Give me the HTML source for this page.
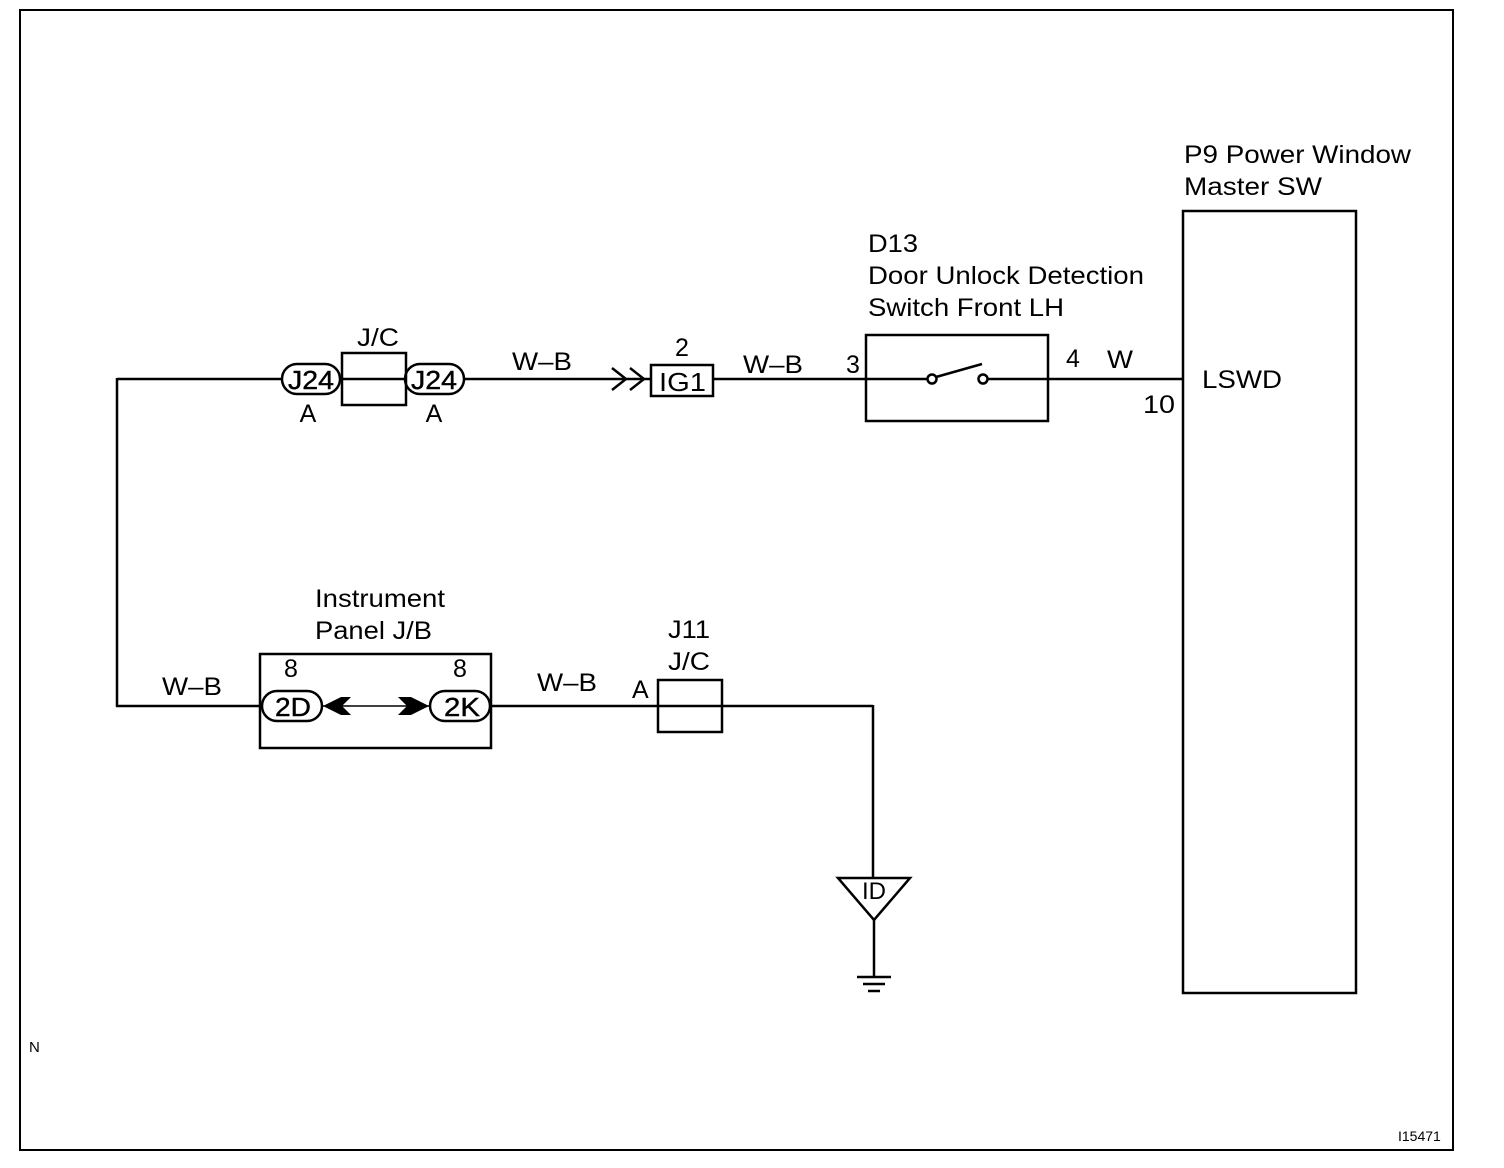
<!DOCTYPE html>
<html><head><meta charset="utf-8"><style>
html,body{margin:0;padding:0;background:#fff;}
svg{display:block;}
text{font-family:"Liberation Sans",sans-serif;fill:#000;}
</style></head><body>
<svg width="1504" height="1168" viewBox="0 0 1504 1168" xmlns="http://www.w3.org/2000/svg">
<rect x="20" y="10" width="1433" height="1140" fill="none" stroke="#000" stroke-width="2"/>
<g stroke="#000" stroke-width="2.5" fill="none">
<line x1="117" y1="379" x2="282" y2="379"/>
<rect x="282" y="364" width="58" height="30" rx="15"/>
<rect x="342" y="353" width="64" height="52"/>
<line x1="342" y1="379" x2="406" y2="379"/>
<rect x="405" y="364" width="59" height="30" rx="15"/>
<line x1="464" y1="379" x2="650" y2="379"/>
<polyline points="612,368 626,379 612,390"/>
<polyline points="630,368 644,379 630,390"/>
<rect x="651" y="365" width="62" height="31"/>
<line x1="713" y1="379" x2="927" y2="379"/>
<rect x="866" y="335" width="182" height="86"/>
<circle cx="932" cy="379" r="4.5" fill="#fff"/>
<circle cx="983" cy="379" r="4.5" fill="#fff"/>
<line x1="936" y1="377" x2="982" y2="364"/>
<line x1="988" y1="379" x2="1183" y2="379"/>
<rect x="1183" y="211" width="173" height="782"/>
<line x1="117" y1="378" x2="117" y2="707"/>
<line x1="116" y1="706" x2="262" y2="706"/>
<rect x="260" y="654" width="231" height="94"/>
<rect x="262" y="691" width="60" height="30" rx="15"/>
<rect x="430" y="691" width="60" height="30" rx="15"/>
<line x1="322" y1="706" x2="430" y2="706" stroke-width="1.5"/>
<line x1="490" y1="706" x2="873" y2="706"/>
<rect x="658" y="680" width="64" height="52"/>
<line x1="873" y1="705" x2="873" y2="878"/>
<polygon points="838,878 910,878 874,920"/>
<line x1="874" y1="920" x2="874" y2="976"/>
<line x1="857" y1="977" x2="891" y2="977"/>
<line x1="863" y1="984" x2="885" y2="984"/>
<line x1="868" y1="991" x2="880" y2="991"/>
</g>
<polygon points="323,706 341,697 351,697 342,706 351,715 341,715" fill="#000"/>
<polygon points="429,706 411,697 398,697 407,706 398,715 411,715" fill="#000"/>
<g font-size="25">
<text x="288" y="389" font-size="26" textLength="46" lengthAdjust="spacingAndGlyphs" stroke="#000" stroke-width="0.4">J24</text>
<text x="411" y="389" font-size="26" textLength="46" lengthAdjust="spacingAndGlyphs" stroke="#000" stroke-width="0.4">J24</text>
<text x="308" y="422" text-anchor="middle">A</text>
<text x="434" y="422" text-anchor="middle">A</text>
<text x="357" y="346" textLength="42" lengthAdjust="spacingAndGlyphs">J/C</text>
<text x="512" y="370" textLength="60" lengthAdjust="spacingAndGlyphs">W–B</text>
<text x="682" y="356" text-anchor="middle">2</text>
<text x="659" y="391" font-size="26" textLength="47" lengthAdjust="spacingAndGlyphs">IG1</text>
<text x="743" y="373" textLength="60" lengthAdjust="spacingAndGlyphs">W–B</text>
<text x="846" y="373">3</text>
<text x="868" y="252" textLength="50" lengthAdjust="spacingAndGlyphs">D13</text>
<text x="868" y="284" textLength="276" lengthAdjust="spacingAndGlyphs">Door Unlock Detection</text>
<text x="868" y="316" textLength="196" lengthAdjust="spacingAndGlyphs">Switch Front LH</text>
<text x="1066" y="367">4</text>
<text x="1107" y="368" textLength="26" lengthAdjust="spacingAndGlyphs">W</text>
<text x="1143" y="413" textLength="32" lengthAdjust="spacingAndGlyphs">10</text>
<text x="1202" y="388" textLength="80" lengthAdjust="spacingAndGlyphs">LSWD</text>
<text x="1184" y="163" textLength="227" lengthAdjust="spacingAndGlyphs">P9 Power Window</text>
<text x="1184" y="195" textLength="138" lengthAdjust="spacingAndGlyphs">Master SW</text>
<text x="315" y="607" textLength="130" lengthAdjust="spacingAndGlyphs">Instrument</text>
<text x="315" y="639" textLength="117" lengthAdjust="spacingAndGlyphs">Panel J/B</text>
<text x="291" y="677" text-anchor="middle">8</text>
<text x="460" y="677" text-anchor="middle">8</text>
<text x="275" y="716" font-size="26" textLength="36" lengthAdjust="spacingAndGlyphs" stroke="#000" stroke-width="0.4">2D</text>
<text x="444" y="716" font-size="26" textLength="36" lengthAdjust="spacingAndGlyphs" stroke="#000" stroke-width="0.4">2K</text>
<text x="162" y="695" textLength="60" lengthAdjust="spacingAndGlyphs">W–B</text>
<text x="537" y="691" textLength="60" lengthAdjust="spacingAndGlyphs">W–B</text>
<text x="632" y="698">A</text>
<text x="668" y="638" textLength="42" lengthAdjust="spacingAndGlyphs">J11</text>
<text x="668" y="670" textLength="42" lengthAdjust="spacingAndGlyphs">J/C</text>
<text x="874" y="899" text-anchor="middle" font-size="24">ID</text>
</g>
<text x="29" y="1052" font-size="15">N</text>
<text x="1398" y="1141" font-size="14">I15471</text>
</svg>
</body></html>
